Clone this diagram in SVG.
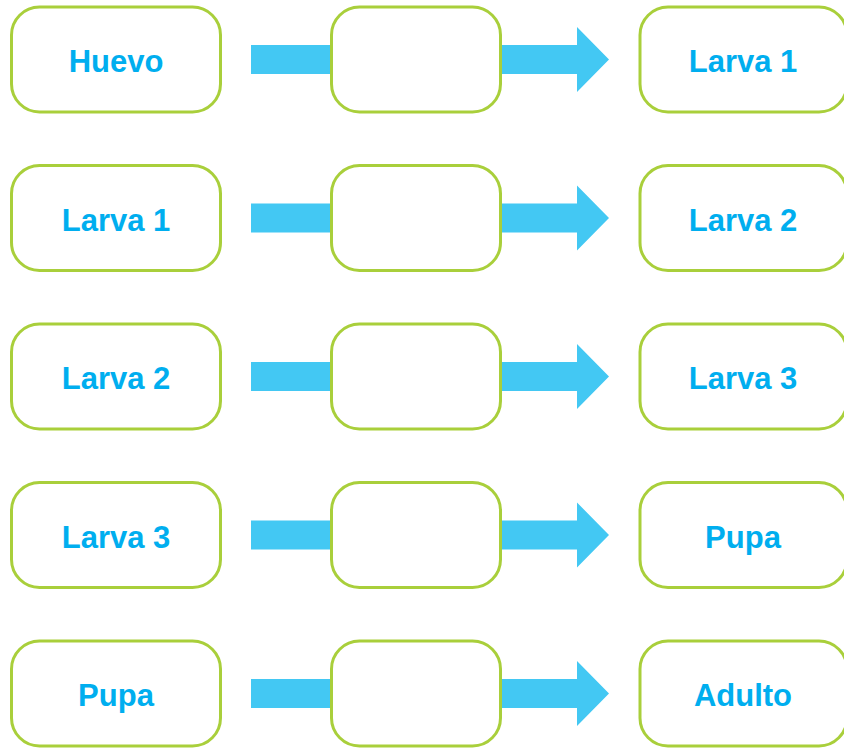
<svg xmlns="http://www.w3.org/2000/svg" width="844" height="748" viewBox="0 0 844 748">
<style>
.box{fill:#fff;stroke:#a9cf3b;stroke-width:3}
.arr{fill:#43c8f3}
.t{font-family:"Liberation Sans",Arial,sans-serif;font-weight:bold;font-size:31px;fill:#00aeef;text-anchor:middle}
</style>
<defs>
<polygon id="arrow" class="arr" points="251,45 577,45 577,27 609,59.5 577,92 577,74 251,74"/>
</defs>
<g id="connectors">
<use href="#arrow"/>
<use href="#arrow" y="158.5"/>
<use href="#arrow" y="317"/>
<use href="#arrow" y="475.5"/>
<use href="#arrow" y="634"/>
</g>
<g id="row1">
<g id="n1a"><rect class="box" x="11.5" y="7" width="209" height="105" rx="28"/><text class="t" x="116" y="72">Huevo</text></g>
<g id="n1b"><rect class="box" x="331.5" y="7" width="169" height="105" rx="28"/></g>
<g id="n1c"><rect class="box" x="640" y="7" width="207" height="105" rx="28"/><text class="t" x="743" y="72">Larva 1</text></g>
</g>
<g id="row2" transform="translate(0,158.5)">
<g id="n2a"><rect class="box" x="11.5" y="7" width="209" height="105" rx="28"/><text class="t" x="116" y="72">Larva 1</text></g>
<g id="n2b"><rect class="box" x="331.5" y="7" width="169" height="105" rx="28"/></g>
<g id="n2c"><rect class="box" x="640" y="7" width="207" height="105" rx="28"/><text class="t" x="743" y="72">Larva 2</text></g>
</g>
<g id="row3" transform="translate(0,317)">
<g id="n3a"><rect class="box" x="11.5" y="7" width="209" height="105" rx="28"/><text class="t" x="116" y="72">Larva 2</text></g>
<g id="n3b"><rect class="box" x="331.5" y="7" width="169" height="105" rx="28"/></g>
<g id="n3c"><rect class="box" x="640" y="7" width="207" height="105" rx="28"/><text class="t" x="743" y="72">Larva 3</text></g>
</g>
<g id="row4" transform="translate(0,475.5)">
<g id="n4a"><rect class="box" x="11.5" y="7" width="209" height="105" rx="28"/><text class="t" x="116" y="72">Larva 3</text></g>
<g id="n4b"><rect class="box" x="331.5" y="7" width="169" height="105" rx="28"/></g>
<g id="n4c"><rect class="box" x="640" y="7" width="207" height="105" rx="28"/><text class="t" x="743" y="72">Pupa</text></g>
</g>
<g id="row5" transform="translate(0,634)">
<g id="n5a"><rect class="box" x="11.5" y="7" width="209" height="105" rx="28"/><text class="t" x="116" y="72">Pupa</text></g>
<g id="n5b"><rect class="box" x="331.5" y="7" width="169" height="105" rx="28"/></g>
<g id="n5c"><rect class="box" x="640" y="7" width="207" height="105" rx="28"/><text class="t" x="743" y="72">Adulto</text></g>
</g>
</svg>
